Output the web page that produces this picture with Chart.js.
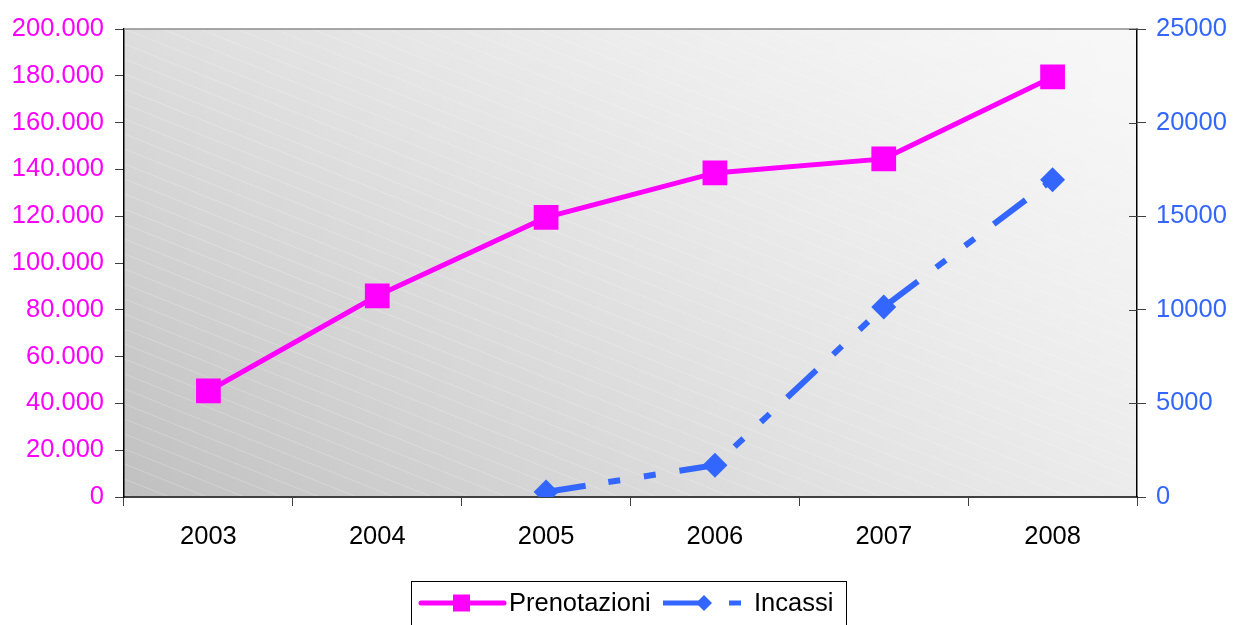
<!DOCTYPE html>
<html>
<head>
<meta charset="utf-8">
<script src="https://cdn.jsdelivr.net/npm/chart.js@4"></script>
<style>
  html, body { margin: 0; padding: 0; background: #ffffff; }
  #wrap { width: 1233px; height: 625px; position: relative; }
</style>
</head>
<body>
<div id="wrap"><canvas id="chart"></canvas></div>
<script>
// Data
var years = ["2003", "2004", "2005", "2006", "2007", "2008"];
var prenotazioni = [45300, 86000, 119500, 138500, 144500, 179500];
var incassi = [null, null, 270, 1700, 10150, 16950];

var leftTicksMax = 200000;
var leftTicksStep = 20000;
var rightTicksMax = 25000;
var rightTicksStep = 5000;

var PINK = "#ff00ff";
var BLUE = "#3366ff";
var FONT = "'Liberation Sans', Arial, sans-serif";

// "200000" -> "200.000"
function addThousandsSeparator(no) {
  return no.toString().replace(/(\d)(?=(\d\d\d)+(?!\d))/g, "$1.");
}

// gray gradient + faint diagonal hatching behind the plot, plus frame
const plotBackground = {
  id: "plotBackground",
  beforeDraw(chart) {
    const ctx = chart.ctx;
    const a = chart.chartArea;
    ctx.save();
    const grad = ctx.createLinearGradient(a.left, a.bottom, a.left + 300, a.top - 500);
    grad.addColorStop(0, "#c0c0c0");
    grad.addColorStop(0.45, "#dedede");
    grad.addColorStop(1, "#ffffff");
    ctx.fillStyle = grad;
    ctx.fillRect(a.left, a.top, a.right - a.left, a.bottom - a.top);
    const grad2 = ctx.createLinearGradient(a.left, 0, a.right, 0);
    grad2.addColorStop(0, "rgba(255,255,255,0)");
    grad2.addColorStop(1, "rgba(255,255,255,0.55)");
    ctx.fillStyle = grad2;
    ctx.fillRect(a.left, a.top, a.right - a.left, a.bottom - a.top);

    ctx.beginPath();
    ctx.rect(a.left, a.top, a.right - a.left, a.bottom - a.top);
    ctx.clip();
    ctx.strokeStyle = "rgba(255,255,255,0.22)";
    ctx.lineWidth = 1;
    const slope = 0.4;
    const w = a.right - a.left;
    for (let y = a.top - w * slope; y < a.bottom; y += 15) {
      ctx.beginPath();
      ctx.moveTo(a.left, y);
      ctx.lineTo(a.right, y + w * slope);
      ctx.stroke();
    }
    ctx.restore();
  },
  afterDraw(chart) {
    const ctx = chart.ctx;
    const a = chart.chartArea;
    ctx.save();
    // top edge of the frame
    ctx.strokeStyle = "#8c8c8c";
    ctx.lineWidth = 1.5;
    ctx.beginPath();
    ctx.moveTo(a.left, a.top);
    ctx.lineTo(a.right, a.top);
    ctx.stroke();
    // inner halves of the right axis ticks
    ctx.strokeStyle = "#404040";
    ctx.lineWidth = 1;
    const y1 = chart.scales.y1;
    for (let v = 0; v <= rightTicksMax; v += rightTicksStep) {
      const py = Math.round(y1.getPixelForValue(v)) + 0.5;
      ctx.beginPath();
      ctx.moveTo(a.right - 8, py);
      ctx.lineTo(a.right, py);
      ctx.stroke();
    }
    ctx.restore();
  }
};

// legend box like the original: line + marker sample
const customLegend = {
  id: "customLegend",
  afterDraw(chart) {
    const ctx = chart.ctx;
    ctx.save();
    ctx.strokeStyle = "#000000";
    ctx.lineWidth = 1;
    ctx.strokeRect(411.5, 581.5, 435, 50);

    const ly = 603;
    // Prenotazioni
    ctx.strokeStyle = PINK;
    ctx.lineWidth = 5;
    ctx.lineCap = "round";
    ctx.beginPath();
    ctx.moveTo(421, ly);
    ctx.lineTo(504, ly);
    ctx.stroke();
    ctx.fillStyle = PINK;
    ctx.fillRect(453, ly - 8.5, 17, 17);

    // Incassi
    ctx.strokeStyle = BLUE;
    ctx.lineWidth = 5;
    ctx.lineCap = "butt";
    ctx.beginPath();
    ctx.moveTo(663, ly);
    ctx.lineTo(704, ly);
    ctx.moveTo(729, ly);
    ctx.lineTo(741, ly);
    ctx.stroke();
    ctx.fillStyle = BLUE;
    ctx.beginPath();
    ctx.moveTo(704, ly - 8);
    ctx.lineTo(712, ly);
    ctx.lineTo(704, ly + 8);
    ctx.lineTo(696, ly);
    ctx.closePath();
    ctx.fill();

    ctx.fillStyle = "#000000";
    ctx.font = "25.5px " + FONT;
    ctx.textBaseline = "middle";
    ctx.textAlign = "left";
    ctx.fillText("Prenotazioni", 509, ly + 1);
    ctx.fillText("Incassi", 754, ly + 1);
    ctx.restore();
  }
};

const chartData = {
  labels: years,
  datasets: [
    {
      label: "Prenotazioni",
      data: prenotazioni,
      yAxisID: "y",
      borderColor: PINK,
      backgroundColor: PINK,
      borderWidth: 5,
      pointStyle: "rect",
      pointRadius: 17.5,
      pointHoverRadius: 17.5,
      pointBorderWidth: 0,
      tension: 0,
      order: 2,
    },
    {
      label: "Incassi",
      data: incassi,
      yAxisID: "y1",
      borderColor: BLUE,
      backgroundColor: BLUE,
      borderWidth: 6,
      borderDash: [40, 23, 12, 24, 12, 24],
      borderCapStyle: "butt",
      pointStyle: "rectRot",
      pointRadius: 12.5,
      pointHoverRadius: 12.5,
      pointBorderWidth: 0,
      spanGaps: false,
      tension: 0,
      order: 1,
    },
  ],
};

const chartConfig = {
  type: "line",
  data: chartData,
  options: {
    responsive: false,
    animation: false,
    devicePixelRatio: 1,
    layout: { padding: { top: 29, left: 0, right: 0, bottom: 0 } },
    plugins: {
      legend: { display: false },
      tooltip: { enabled: false },
    },
    scales: {
      x: {
        offset: true,
        grid: {
          offset: true,
          drawOnChartArea: false,
          drawTicks: true,
          tickLength: 9,
          color: "#404040",
        },
        border: { display: true, color: "#404040", width: 2 },
        ticks: {
          color: "#000000",
          font: { family: FONT, size: 25.5 },
          padding: 16,
          maxRotation: 0,
        },
        afterFit(scale) { scale.height = 128; },
      },
      y: {
        position: "left",
        min: 0,
        max: leftTicksMax,
        grid: {
          drawOnChartArea: false,
          tickLength: 9,
          color: "#404040",
        },
        border: { display: true, color: "#000000", width: 1.5 },
        ticks: {
          stepSize: leftTicksStep,
          color: PINK,
          font: { family: FONT, size: 25.5 },
          padding: 11,
          callback: function (v) { return addThousandsSeparator(v); },
        },
        afterFit(scale) { scale.width = 124; },
      },
      y1: {
        position: "right",
        min: 0,
        max: rightTicksMax,
        grid: {
          drawOnChartArea: false,
          tickLength: 9,
          color: "#404040",
        },
        border: { display: true, color: "#000000", width: 1.5 },
        ticks: {
          stepSize: rightTicksStep,
          color: BLUE,
          font: { family: FONT, size: 25.5 },
          padding: 10,
          callback: function (v) { return String(v); },
        },
        afterFit(scale) { scale.width = 96; },
      },
    },
  },
  plugins: [plotBackground, customLegend],
};

const canvas = document.getElementById("chart");
canvas.width = 1233;
canvas.height = 625;
new Chart(canvas.getContext("2d"), chartConfig);
</script>
</body>
</html>
